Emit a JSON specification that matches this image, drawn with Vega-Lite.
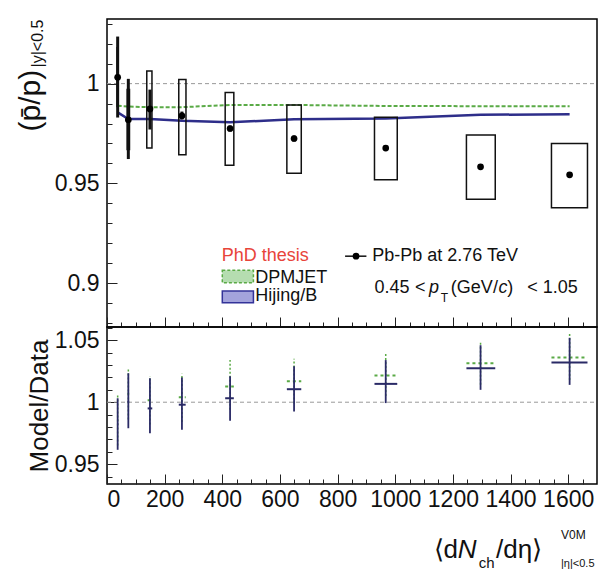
{
"$schema": "https://vega.github.io/schema/vega-lite/v6.json",
"padding": {"left": 15, "top": 18, "right": 4, "bottom": 2},
"spacing": 0,
"bounds": "flush",
"config": {
  "view": {"stroke": "#000", "strokeWidth": 1.5},
  "font": "Liberation Sans",
  "axis": {"domain": false, "grid": false, "labelFont": "Liberation Sans", "labelColor": "#111", "labelFontSize": 23, "titleFont": "Liberation Sans", "titleFontWeight": "normal", "titleColor": "#111", "tickColor": "#222", "tickWidth": 1, "labelOverlap": false},
  "text": {"font": "Liberation Sans", "color": "#111"}
},
"datasets": {
  "pts": [
    {"x": 37, "y": 1.0032, "ylo": 0.983, "yhi": 1.0236, "bxlo": 35, "bxhi": 39, "bylo": 0.9885, "byhi": 1.018},
    {"x": 74, "y": 0.9819, "ylo": 0.9622, "yhi": 1.0024, "bxlo": 70, "bxhi": 78, "bylo": 0.967, "byhi": 0.997},
    {"x": 149, "y": 0.9873, "ylo": 0.977, "yhi": 0.997, "bxlo": 138, "bxhi": 156, "bylo": 0.9677, "byhi": 1.0063},
    {"x": 260, "y": 0.9839, "ylo": 0.982, "yhi": 0.986, "bxlo": 249, "bxhi": 274, "bylo": 0.9644, "byhi": 1.0021},
    {"x": 427, "y": 0.9775, "ylo": 0.976, "yhi": 0.979, "bxlo": 410, "bxhi": 440, "bylo": 0.9591, "byhi": 0.9955},
    {"x": 649, "y": 0.9725, "ylo": 0.971, "yhi": 0.974, "bxlo": 624, "bxhi": 674, "bylo": 0.9551, "byhi": 0.9893},
    {"x": 967, "y": 0.9677, "ylo": 0.9665, "yhi": 0.969, "bxlo": 928, "bxhi": 1007, "bylo": 0.9518, "byhi": 0.9831},
    {"x": 1296, "y": 0.9583, "ylo": 0.957, "yhi": 0.9595, "bxlo": 1247, "bxhi": 1347, "bylo": 0.9421, "byhi": 0.9742},
    {"x": 1605, "y": 0.9543, "ylo": 0.953, "yhi": 0.9555, "bxlo": 1542, "bxhi": 1667, "bylo": 0.9378, "byhi": 0.970}
  ],
  "models": [
    {"model": "Hijing/B", "x": 37, "y": 0.9856},
    {"model": "Hijing/B", "x": 74, "y": 0.9823},
    {"model": "Hijing/B", "x": 149, "y": 0.9823},
    {"model": "Hijing/B", "x": 260, "y": 0.9814},
    {"model": "Hijing/B", "x": 427, "y": 0.9806},
    {"model": "Hijing/B", "x": 649, "y": 0.9822},
    {"model": "Hijing/B", "x": 967, "y": 0.9825},
    {"model": "Hijing/B", "x": 1296, "y": 0.9844},
    {"model": "Hijing/B", "x": 1605, "y": 0.9846},
    {"model": "DPMJET", "x": 37, "y": 0.9889},
    {"model": "DPMJET", "x": 74, "y": 0.9885},
    {"model": "DPMJET", "x": 149, "y": 0.9882},
    {"model": "DPMJET", "x": 260, "y": 0.9882},
    {"model": "DPMJET", "x": 427, "y": 0.9893},
    {"model": "DPMJET", "x": 649, "y": 0.9893},
    {"model": "DPMJET", "x": 967, "y": 0.9888},
    {"model": "DPMJET", "x": 1296, "y": 0.9887},
    {"model": "DPMJET", "x": 1605, "y": 0.9887}
  ],
  "ratio": [
    {"model": "Hijing/B", "x": 37, "r": 0.9825, "lo": 0.9616, "hi": 1.0032, "xl": 35, "xh": 39},
    {"model": "Hijing/B", "x": 74, "r": 1.0004, "lo": 0.979, "hi": 1.0234, "xl": 71, "xh": 77},
    {"model": "Hijing/B", "x": 149, "r": 0.995, "lo": 0.975, "hi": 1.0194, "xl": 141, "xh": 157},
    {"model": "Hijing/B", "x": 260, "r": 0.998, "lo": 0.9777, "hi": 1.02, "xl": 249, "xh": 273},
    {"model": "Hijing/B", "x": 427, "r": 1.0032, "lo": 0.985, "hi": 1.021, "xl": 410, "xh": 440},
    {"model": "Hijing/B", "x": 649, "r": 1.0105, "lo": 0.9925, "hi": 1.029, "xl": 624, "xh": 674},
    {"model": "Hijing/B", "x": 967, "r": 1.0148, "lo": 0.9993, "hi": 1.034, "xl": 928, "xh": 1007},
    {"model": "Hijing/B", "x": 1296, "r": 1.0274, "lo": 1.010, "hi": 1.046, "xl": 1247, "xh": 1347},
    {"model": "Hijing/B", "x": 1605, "r": 1.032, "lo": 1.014, "hi": 1.052, "xl": 1542, "xh": 1667},
    {"model": "DPMJET", "x": 37, "r": 0.9857, "lo": 0.965, "hi": 1.006, "xl": 35, "xh": 39},
    {"model": "DPMJET", "x": 74, "r": 1.007, "lo": 0.986, "hi": 1.027, "xl": 71, "xh": 77},
    {"model": "DPMJET", "x": 149, "r": 1.0016, "lo": 0.982, "hi": 1.021, "xl": 141, "xh": 157},
    {"model": "DPMJET", "x": 260, "r": 1.004, "lo": 0.984, "hi": 1.023, "xl": 249, "xh": 273},
    {"model": "DPMJET", "x": 427, "r": 1.0127, "lo": 0.994, "hi": 1.034, "xl": 410, "xh": 440},
    {"model": "DPMJET", "x": 649, "r": 1.017, "lo": 0.999, "hi": 1.035, "xl": 624, "xh": 674},
    {"model": "DPMJET", "x": 967, "r": 1.0215, "lo": 1.005, "hi": 1.039, "xl": 928, "xh": 1007},
    {"model": "DPMJET", "x": 1296, "r": 1.0315, "lo": 1.014, "hi": 1.049, "xl": 1247, "xh": 1347},
    {"model": "DPMJET", "x": 1605, "r": 1.036, "lo": 1.018, "hi": 1.055, "xl": 1542, "xh": 1667}
  ]
},
"vconcat": [
 {
  "width": 490, "height": 308,
  "resolve": {"axis": {"x": "independent", "y": "independent"}},
  "layer": [
    {"data": {"values": [{}]}, "mark": {"type": "rule", "strokeDash": [4, 3], "color": "#999", "strokeWidth": 1},
     "encoding": {"x": {"datum": 0, "type": "quantitative", "axis": null}, "x2": {"datum": 1700}, "y": {"datum": 1, "type": "quantitative", "axis": null}}},
    {"data": {"name": "models"}, "transform": [{"filter": "datum.model === 'DPMJET'"}],
     "mark": {"type": "line", "color": "#5aaa46", "strokeWidth": 2, "strokeDash": [4, 2]},
     "encoding": {
       "x": {"field": "x", "type": "quantitative", "axis": {"orient": "bottom", "title": null, "labels": false, "tickSize": -5, "values": [50,100,150,250,300,350,450,500,550,650,700,750,850,900,950,1050,1100,1150,1250,1300,1350,1450,1500,1550,1650]}},
       "y": {"field": "y", "type": "quantitative", "axis": {"orient": "left", "title": null, "labels": false, "tickSize": -5, "values": [0.88,0.89,0.91,0.92,0.93,0.94,0.96,0.97,0.98,0.99,1.01,1.02,1.03]}}}},
    {"data": {"name": "models"}, "transform": [{"filter": "datum.model === 'Hijing/B'"}],
     "mark": {"type": "line", "color": "#2e2e8a", "strokeWidth": 2.5},
     "encoding": {"x": {"field": "x", "type": "quantitative", "axis": null}, "y": {"field": "y", "type": "quantitative", "axis": null}}},
    {"data": {"name": "pts"}, "mark": {"type": "rect", "fill": "transparent", "stroke": "#111", "strokeWidth": 1.5},
     "encoding": {"x": {"field": "bxlo", "type": "quantitative", "axis": null}, "x2": {"field": "bxhi"}, "y": {"field": "bylo", "type": "quantitative", "axis": null}, "y2": {"field": "byhi"}}},
    {"data": {"name": "pts"}, "mark": {"type": "rule", "color": "#111", "strokeWidth": 3},
     "encoding": {"x": {"field": "x", "type": "quantitative", "axis": null}, "y": {"field": "ylo", "type": "quantitative", "axis": null}, "y2": {"field": "yhi"}}},
    {"data": {"name": "pts"}, "mark": {"type": "circle", "color": "#000", "opacity": 1, "size": 45},
     "encoding": {
       "x": {"field": "x", "type": "quantitative", "scale": {"domain": [0, 1700], "nice": false, "zero": false},
             "axis": {"orient": "bottom", "title": null, "labels": false, "values": [0,200,400,600,800,1000,1200,1400,1600], "tickSize": -10}},
       "y": {"field": "y", "type": "quantitative", "scale": {"domain": [0.878, 1.0324], "nice": false, "zero": false},
             "axis": {"orient": "left", "title": null, "format": "~g", "values": [0.9, 0.95, 1], "labelPadding": 18, "tickSize": -10}}
     }},
    {"data": {"values": [{}]}, "mark": {"type": "text", "text": "PhD thesis", "color": "#e8443a", "fontSize": 18, "align": "left", "baseline": "middle"},
     "encoding": {"x": {"datum": 398, "type": "quantitative", "axis": null}, "y": {"datum": 0.9136, "type": "quantitative", "axis": null}}},
    {"data": {"values": [{}]}, "mark": {"type": "rect", "fill": "#b5ddb0", "stroke": "#5aaa46", "strokeWidth": 1.5, "strokeDash": [3, 2]},
     "encoding": {"x": {"datum": 400, "type": "quantitative", "axis": null}, "x2": {"datum": 508}, "y": {"datum": 0.9064, "type": "quantitative", "axis": null}, "y2": {"datum": 0.9002}}},
    {"data": {"values": [{}]}, "mark": {"type": "rect", "fill": "#a3a3dc", "stroke": "#333399", "strokeWidth": 1.5},
     "encoding": {"x": {"datum": 400, "type": "quantitative", "axis": null}, "x2": {"datum": 508}, "y": {"datum": 0.896, "type": "quantitative", "axis": null}, "y2": {"datum": 0.8901}}},
    {"data": {"values": [{}]}, "mark": {"type": "text", "text": "DPMJET", "fontSize": 18, "align": "left", "baseline": "middle"},
     "encoding": {"x": {"datum": 514, "type": "quantitative", "axis": null}, "y": {"datum": 0.9027, "type": "quantitative", "axis": null}}},
    {"data": {"values": [{}]}, "mark": {"type": "text", "text": "Hijing/B", "fontSize": 18, "align": "left", "baseline": "middle"},
     "encoding": {"x": {"datum": 514, "type": "quantitative", "axis": null}, "y": {"datum": 0.8935, "type": "quantitative", "axis": null}}},
    {"data": {"values": [{}]}, "mark": {"type": "rule", "color": "#111", "strokeWidth": 1.5},
     "encoding": {"x": {"datum": 826, "type": "quantitative", "axis": null}, "x2": {"datum": 900}, "y": {"datum": 0.9135, "type": "quantitative", "axis": null}}},
    {"data": {"values": [{}]}, "mark": {"type": "circle", "color": "#000", "opacity": 1, "size": 45},
     "encoding": {"x": {"datum": 864, "type": "quantitative", "axis": null}, "y": {"datum": 0.9135, "type": "quantitative", "axis": null}}},
    {"data": {"values": [{}]}, "mark": {"type": "text", "text": "Pb-Pb at 2.76 TeV", "fontSize": 18, "align": "left", "baseline": "middle"},
     "encoding": {"x": {"datum": 920, "type": "quantitative", "axis": null}, "y": {"datum": 0.9135, "type": "quantitative", "axis": null}}},
    {"data": {"values": [{}]}, "mark": {"type": "text", "text": "0.45", "fontSize": 18, "align": "left", "baseline": "middle"},
     "encoding": {"x": {"datum": 928, "type": "quantitative", "axis": null}, "y": {"datum": 0.8976, "type": "quantitative", "axis": null}}},
    {"data": {"values": [{}]}, "mark": {"type": "text", "text": "<", "fontSize": 18, "align": "left", "baseline": "middle"},
     "encoding": {"x": {"datum": 1069, "type": "quantitative", "axis": null}, "y": {"datum": 0.8976, "type": "quantitative", "axis": null}}},
    {"data": {"values": [{}]}, "mark": {"type": "text", "text": "p", "fontSize": 18, "fontStyle": "italic", "align": "left", "baseline": "middle"},
     "encoding": {"x": {"datum": 1117, "type": "quantitative", "axis": null}, "y": {"datum": 0.8976, "type": "quantitative", "axis": null}}},
    {"data": {"values": [{}]}, "mark": {"type": "text", "text": "T", "fontSize": 12, "align": "left", "baseline": "middle"},
     "encoding": {"x": {"datum": 1158, "type": "quantitative", "axis": null}, "y": {"datum": 0.8925, "type": "quantitative", "axis": null}}},
    {"data": {"values": [{}]}, "mark": {"type": "text", "text": "(GeV/", "fontSize": 18, "align": "left", "baseline": "middle"},
     "encoding": {"x": {"datum": 1193, "type": "quantitative", "axis": null}, "y": {"datum": 0.8976, "type": "quantitative", "axis": null}}},
    {"data": {"values": [{}]}, "mark": {"type": "text", "text": "c", "fontSize": 18, "fontStyle": "italic", "align": "left", "baseline": "middle"},
     "encoding": {"x": {"datum": 1358, "type": "quantitative", "axis": null}, "y": {"datum": 0.8976, "type": "quantitative", "axis": null}}},
    {"data": {"values": [{}]}, "mark": {"type": "text", "text": ")", "fontSize": 18, "align": "left", "baseline": "middle"},
     "encoding": {"x": {"datum": 1389, "type": "quantitative", "axis": null}, "y": {"datum": 0.8976, "type": "quantitative", "axis": null}}},
    {"data": {"values": [{}]}, "mark": {"type": "text", "text": "< 1.05", "fontSize": 18, "align": "left", "baseline": "middle"},
     "encoding": {"x": {"datum": 1458, "type": "quantitative", "axis": null}, "y": {"datum": 0.8976, "type": "quantitative", "axis": null}}},
    {"data": {"values": [{}]}, "mark": {"type": "text", "text": "(p̄/p)", "fontSize": 30, "angle": 270, "align": "center", "baseline": "alphabetic"},
     "encoding": {"x": {"datum": -232, "type": "quantitative", "axis": null}, "y": {"datum": 0.9915, "type": "quantitative", "axis": null}}},
    {"data": {"values": [{}]}, "mark": {"type": "text", "text": "|y|<0.5", "fontSize": 16, "angle": 270, "align": "center", "baseline": "alphabetic"},
     "encoding": {"x": {"datum": -222, "type": "quantitative", "axis": null}, "y": {"datum": 1.0201, "type": "quantitative", "axis": null}}}
  ]
 },
 {
  "width": 490, "height": 157,
  "resolve": {"axis": {"x": "independent", "y": "independent"}},
  "layer": [
    {"data": {"values": [{}]}, "mark": {"type": "rule", "strokeDash": [4, 3], "color": "#999", "strokeWidth": 1},
     "encoding": {"x": {"datum": 0, "type": "quantitative", "axis": null}, "x2": {"datum": 1700}, "y": {"datum": 1, "type": "quantitative", "axis": null}}},
    {"data": {"name": "ratio"}, "transform": [{"filter": "datum.model === 'DPMJET'"}],
     "mark": {"type": "rule", "color": "#5aaa46", "strokeWidth": 1.5, "strokeDash": [2, 2]},
     "encoding": {
       "x": {"field": "x", "type": "quantitative", "axis": {"orient": "bottom", "title": null, "labels": false, "tickSize": -5, "values": [50,100,150,250,300,350,450,500,550,650,700,750,850,900,950,1050,1100,1150,1250,1300,1350,1450,1500,1550,1650]}},
       "y": {"field": "lo", "type": "quantitative", "axis": {"orient": "left", "title": null, "labels": false, "tickSize": -5, "values": [0.94,0.96,0.97,0.98,0.99,1.01,1.02,1.03,1.04,1.06]}},
       "y2": {"field": "hi"}}},
    {"data": {"name": "ratio"}, "transform": [{"filter": "datum.model === 'DPMJET'"}],
     "mark": {"type": "rule", "color": "#5aaa46", "strokeWidth": 2, "strokeDash": [3, 3]},
     "encoding": {"x": {"field": "xl", "type": "quantitative", "axis": null}, "x2": {"field": "xh"}, "y": {"field": "r", "type": "quantitative", "axis": null}}},
    {"data": {"name": "ratio"}, "transform": [{"filter": "datum.model === 'Hijing/B'"}],
     "mark": {"type": "rule", "color": "#2a2a66", "strokeWidth": 2},
     "encoding": {"x": {"field": "xl", "type": "quantitative", "axis": null}, "x2": {"field": "xh"}, "y": {"field": "r", "type": "quantitative", "axis": null}}},
    {"data": {"name": "ratio"}, "transform": [{"filter": "datum.model === 'Hijing/B'"}],
     "mark": {"type": "rule", "color": "#2a2a66", "strokeWidth": 1.8},
     "encoding": {
       "x": {"field": "x", "type": "quantitative", "scale": {"domain": [0, 1700], "nice": false, "zero": false},
             "axis": {"orient": "bottom", "title": null, "format": "d", "values": [0,200,400,600,800,1000,1200,1400,1600], "labelPadding": 14, "tickSize": -10}},
       "y": {"field": "lo", "type": "quantitative", "scale": {"domain": [0.934, 1.0607], "nice": false, "zero": false},
             "axis": {"orient": "left", "title": "Model/Data", "titleFontSize": 26, "titlePadding": 2, "format": "~g", "values": [0.95, 1, 1.05], "labelPadding": 18, "tickSize": -10}},
       "y2": {"field": "hi"}
     }},
    {"data": {"values": [{}]}, "mark": {"type": "text", "text": "⟨d", "fontSize": 26, "align": "left", "baseline": "alphabetic"},
     "encoding": {"x": {"datum": 1133, "type": "quantitative", "axis": null}, "y": {"datum": 0.8744, "type": "quantitative", "axis": null}}},
    {"data": {"values": [{}]}, "mark": {"type": "text", "text": "N", "fontSize": 26, "fontStyle": "italic", "align": "left", "baseline": "alphabetic"},
     "encoding": {"x": {"datum": 1217, "type": "quantitative", "axis": null}, "y": {"datum": 0.8744, "type": "quantitative", "axis": null}}},
    {"data": {"values": [{}]}, "mark": {"type": "text", "text": "ch", "fontSize": 15, "align": "left", "baseline": "alphabetic"},
     "encoding": {"x": {"datum": 1290, "type": "quantitative", "axis": null}, "y": {"datum": 0.8662, "type": "quantitative", "axis": null}}},
    {"data": {"values": [{}]}, "mark": {"type": "text", "text": "/dη⟩", "fontSize": 26, "align": "left", "baseline": "alphabetic"},
     "encoding": {"x": {"datum": 1350, "type": "quantitative", "axis": null}, "y": {"datum": 0.8744, "type": "quantitative", "axis": null}}},
    {"data": {"values": [{}]}, "mark": {"type": "text", "text": "V0M", "fontSize": 12, "align": "left", "baseline": "alphabetic"},
     "encoding": {"x": {"datum": 1575, "type": "quantitative", "axis": null}, "y": {"datum": 0.8897, "type": "quantitative", "axis": null}}},
    {"data": {"values": [{}]}, "mark": {"type": "text", "text": "|η|<0.5", "fontSize": 11, "align": "left", "baseline": "alphabetic"},
     "encoding": {"x": {"datum": 1575, "type": "quantitative", "axis": null}, "y": {"datum": 0.8674, "type": "quantitative", "axis": null}}}
  ]
 }
]
}
